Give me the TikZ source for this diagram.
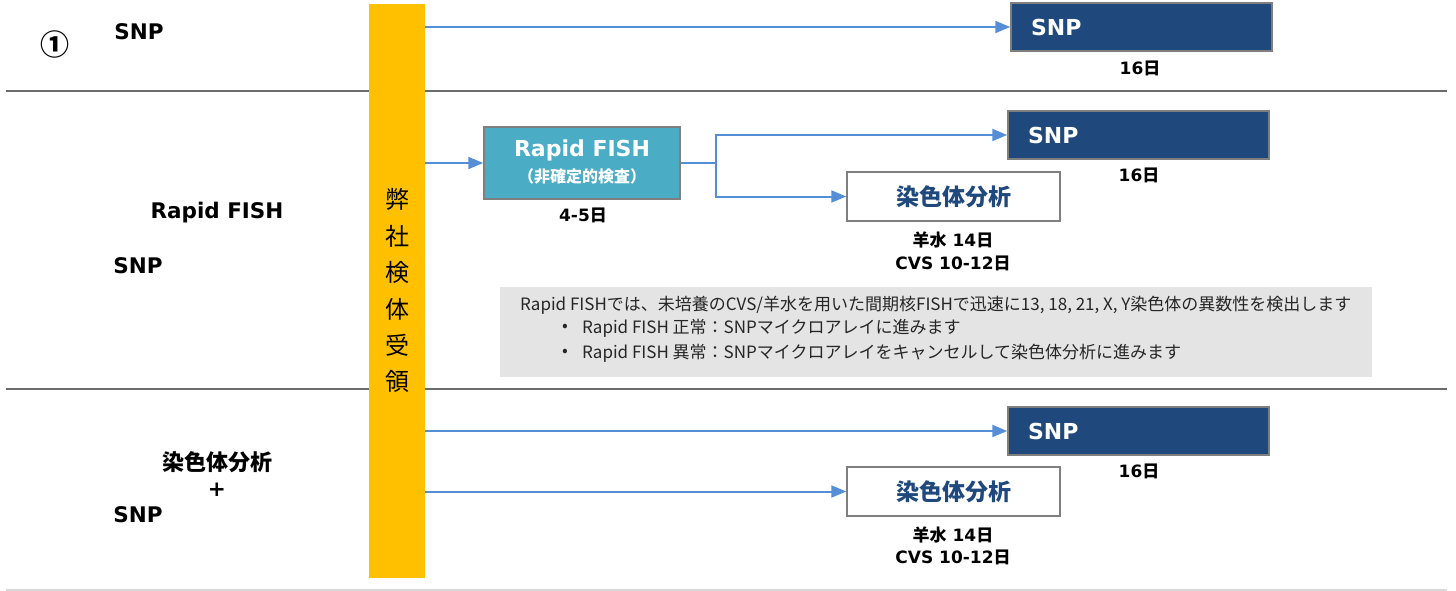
\documentclass[tikz,border=0pt]{standalone}
\usepackage{fontspec}
\setmainfont{DejaVu Sans}
\newfontfamily\jp{Noto Sans CJK JP}
\usetikzlibrary{arrows.meta,positioning}
\definecolor{barY}{HTML}{FFC000}
\definecolor{teal}{HTML}{4BACC6}
\definecolor{navy}{HTML}{1F497D}
\definecolor{arrB}{HTML}{558ED5}
\definecolor{bord}{HTML}{7F7F7F}
\definecolor{sepD}{HTML}{6B6B6B}
\definecolor{sepL}{HTML}{D9D9D9}
\definecolor{noteF}{HTML}{E4E4E4}
\tikzset{
  snpbox/.style={draw=bord, line width=1.5pt, fill=navy, text=white, font=\fontsize{22}{24}\selectfont\bfseries,
    minimum height=48pt, text width=221pt, inner xsep=20pt, inner ysep=0pt, align=left},
  chrombox/.style={draw=bord, line width=1.5pt, fill=white, text=navy, font=\jp\fontsize{23}{25}\selectfont\bfseries,
    minimum width=213pt, minimum height=49pt, inner sep=0pt},
  fishbox/.style={draw=bord, line width=1.5pt, fill=teal, text=white, minimum width=196pt, minimum height=72pt, inner sep=0pt, align=center},
  conn/.style={draw=arrB, line width=2pt, -{Triangle[length=15pt,width=12pt]}},
  plain/.style={draw=arrB, line width=2pt},
  lbl/.style={font=\fontsize{21.5}{24}\selectfont\bfseries, inner sep=0pt},
  days/.style={font=\fontsize{17}{21}\selectfont\bfseries, inner sep=0pt, align=center},
  vch/.style={font=\jp\fontsize{24}{24}\selectfont, inner sep=0pt},
  notetxt/.style={font=\jp\fontsize{17}{19}\selectfont, text=black!85, inner sep=0pt, anchor=west}
}
\begin{document}
\begin{tikzpicture}[x=1pt,y=-1pt]
\useasboundingbox (0,0) rectangle (1456,591);
% separators
\draw[sepD, line width=1.5pt] (6,91) -- (1447,91);
\draw[sepD, line width=1.5pt] (6,389) -- (1447,389);
\draw[sepL, line width=1.5pt] (6,590) -- (1447,590);
% bar
\node[fill=barY, minimum width=56pt, minimum height=574pt, inner sep=0pt] (bar) at (397,291) {};
\node[vch] (v1) at (397,199) {弊};
\node[vch] (v2) at (397,236) {社};
\node[vch] (v3) at (397,272) {検};
\node[vch] (v4) at (397,309) {体};
\node[vch] (v5) at (397,345) {受};
\node[vch] (v6) at (397,381) {領};
% left labels
\node[font=\jp\fontsize{29}{29}\selectfont\bfseries, inner sep=0pt] (c1) at (55,44) {①};
\node[lbl] (l1) at (139,32) {SNP};
\node[lbl] (l2) at (217,213) {Rapid FISH};
\node[lbl] (l3) at (138,266) {SNP};
\node[lbl, font=\jp\fontsize{22}{24}\selectfont\bfseries] (l4) at (217,462) {染色体分析};
\node[lbl] (l5) at (217,490) {+};
\node[lbl] (l6) at (138,515) {SNP};
% row 1
\node[snpbox] (snp1) at (1141.5,27) {SNP};
\node[days] (d1) at (1140,68) {16{\jp 日}};
\draw[conn] (bar.east |- snp1.west) -- (snp1.west);
% row 2
\node[fishbox] (fish) at (582,163) {};
\node[font=\fontsize{22}{24}\selectfont\bfseries, text=white, inner sep=0pt] (fishA) at (582,150) {Rapid FISH};
\node[font=\jp\fontsize{16}{18}\selectfont\bfseries, text=white, inner sep=0pt] (fishB) at (582,176) {（非確定的検査）};
\node[days] (d2) at (583,215) {4-5{\jp 日}};
\draw[conn] (bar.east |- fish.west) -- (fish.west);
\node[snpbox] (snp2) at (1138.5,135) {SNP};
\node[days] (d3) at (1139,175) {16{\jp 日}};
\node[chrombox] (ch2) at (953.5,196.5) {染色体分析};
\node[days] (d4) at (953,240) {{\jp 羊水} 14{\jp 日}};
\node[days] (d5) at (953,263) {CVS 10-12{\jp 日}};
\coordinate (jn) at (716,163);
\draw[plain] (fish.east) -- (jn);
\draw[conn] (jn) |- (snp2.west);
\draw[conn] (jn) |- (ch2.west);
% note
\node[fill=noteF, minimum width=872pt, minimum height=90pt, inner sep=0pt] (note) at (936,332) {};
\node[notetxt] (n1) at (520,305) {Rapid FISHでは、未培養のCVS/羊水を用いた間期核FISHで迅速に13, 18, 21, X, Y染色体の異数性を検出します};
\node[notetxt] (b1) at (562,328) {•};
\node[notetxt] (n2) at (582,328) {Rapid FISH 正常：SNPマイクロアレイに進みます};
\node[notetxt] (b2) at (562,353) {•};
\node[notetxt] (n3) at (582,353) {Rapid FISH 異常：SNPマイクロアレイをキャンセルして染色体分析に進みます};
% row 3
\node[snpbox] (snp3) at (1138.5,431) {SNP};
\node[days] (d6) at (1139,471) {16{\jp 日}};
\node[chrombox] (ch3) at (953.5,491.5) {染色体分析};
\node[days] (d7) at (953,535) {{\jp 羊水} 14{\jp 日}};
\node[days] (d8) at (953,557) {CVS 10-12{\jp 日}};
\draw[conn] (bar.east |- snp3.west) -- (snp3.west);
\draw[conn] (bar.east |- ch3.west) -- (ch3.west);
\end{tikzpicture}
\end{document}
